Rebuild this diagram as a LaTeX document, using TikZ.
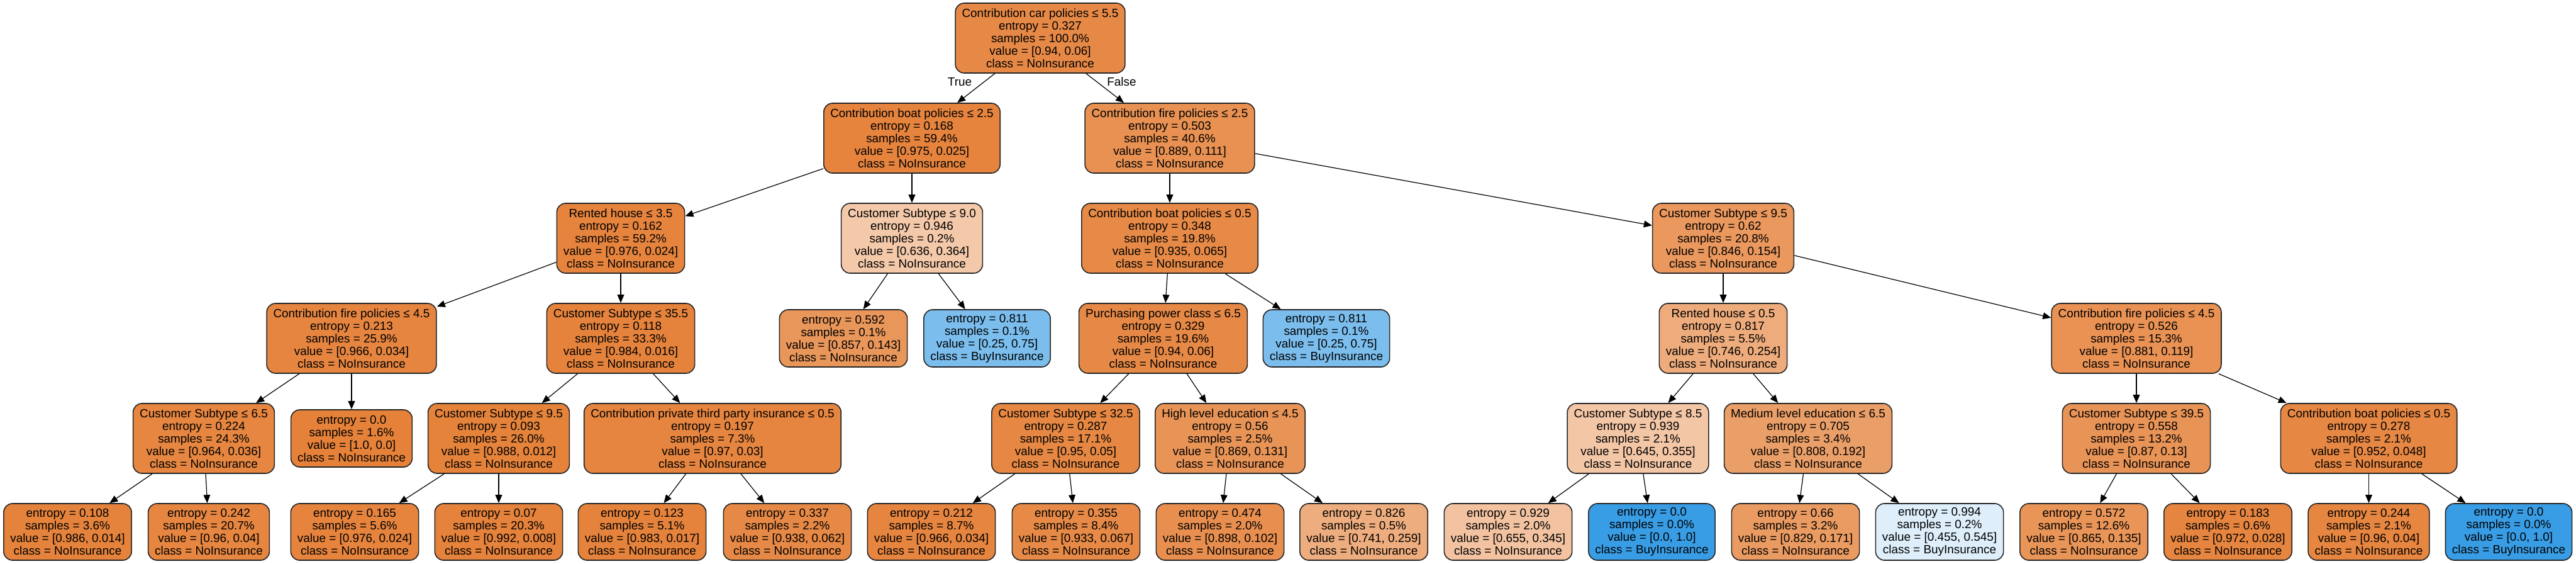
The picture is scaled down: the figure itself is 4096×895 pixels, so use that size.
\documentclass[tikz,border=0pt]{standalone}
\usepackage{fontspec}
\newfontfamily\gvfont{Liberation Sans}
\usetikzlibrary{arrows.meta}
\definecolor{cno}{RGB}{229,129,57}
\definecolor{cby}{RGB}{57,157,229}
\begin{document}
\begin{tikzpicture}[x=0.5pt,y=-0.5pt,
  box/.style={draw=black!85, line width=0.8pt, rounded corners=7pt, align=center,
    font=\gvfont\fontsize{9.45}{10}\selectfont, inner xsep=5.25pt, inner ysep=0pt},
  split/.style={box, minimum height=55.5pt},
  leaf/.style={box, minimum height=45.5pt},
  bleaf/.style={box, minimum height=45pt},
  edge/.style={line width=0.6pt, -{Triangle[length=6.5pt,width=5.4pt]}},
  elab/.style={font=\gvfont\fontsize{9.45}{10}\selectfont, inner sep=0pt}
]
\useasboundingbox (0,0) rectangle (4096,895);
\fill[white] (0,0) rectangle (4096,895);

% level 0
\node[split, fill=cno!93.6] (n0) at (1654,60.5) {Contribution car policies ≤ 5.5\\entropy = 0.327\\samples = 100.0\%\\value = [0.94, 0.06]\\class = NoInsurance};
% level 1
\node[split, fill=cno!97.4] (nL) at (1450,219.5) {Contribution boat policies ≤ 2.5\\entropy = 0.168\\samples = 59.4\%\\value = [0.975, 0.025]\\class = NoInsurance};
\node[split, fill=cno!87.5] (nR) at (1860,219.5) {Contribution fire policies ≤ 2.5\\entropy = 0.503\\samples = 40.6\%\\value = [0.889, 0.111]\\class = NoInsurance};
% level 2
\node[split, fill=cno!97.5] (nLL) at (987,378.5) {Rented house ≤ 3.5\\entropy = 0.162\\samples = 59.2\%\\value = [0.976, 0.024]\\class = NoInsurance};
\node[split, fill=cno!42.8] (nLR) at (1450,378.5) {Customer Subtype ≤ 9.0\\entropy = 0.946\\samples = 0.2\%\\value = [0.636, 0.364]\\class = NoInsurance};
\node[split, fill=cno!93.0] (nRL) at (1860,378.5) {Contribution boat policies ≤ 0.5\\entropy = 0.348\\samples = 19.8\%\\value = [0.935, 0.065]\\class = NoInsurance};
\node[split, fill=cno!81.8] (nRR) at (2740,378.5) {Customer Subtype ≤ 9.5\\entropy = 0.62\\samples = 20.8\%\\value = [0.846, 0.154]\\class = NoInsurance};
% level 3
\node[split, fill=cno!96.5] (nLLL) at (559,537.5) {Contribution fire policies ≤ 4.5\\entropy = 0.213\\samples = 25.9\%\\value = [0.966, 0.034]\\class = NoInsurance};
\node[split, fill=cno!98.4] (nLLR) at (987,537.5) {Customer Subtype ≤ 35.5\\entropy = 0.118\\samples = 33.3\%\\value = [0.984, 0.016]\\class = NoInsurance};
\node[leaf, fill=cno!83.3] (nLRL) at (1341,537.5) {entropy = 0.592\\samples = 0.1\%\\value = [0.857, 0.143]\\class = NoInsurance};
\node[leaf, fill=cby!66.7] (nLRR) at (1569.5,537.5) {entropy = 0.811\\samples = 0.1\%\\value = [0.25, 0.75]\\class = BuyInsurance};
\node[split, fill=cno!93.6] (nRLL) at (1849.5,537.5) {Purchasing power class ≤ 6.5\\entropy = 0.329\\samples = 19.6\%\\value = [0.94, 0.06]\\class = NoInsurance};
\node[leaf, fill=cby!66.7] (nRLR) at (2109,537.5) {entropy = 0.811\\samples = 0.1\%\\value = [0.25, 0.75]\\class = BuyInsurance};
\node[split, fill=cno!66.0] (nRRL) at (2740,537.5) {Rented house ≤ 0.5\\entropy = 0.817\\samples = 5.5\%\\value = [0.746, 0.254]\\class = NoInsurance};
\node[split, fill=cno!86.5] (nRRR) at (3397,537.5) {Contribution fire policies ≤ 4.5\\entropy = 0.526\\samples = 15.3\%\\value = [0.881, 0.119]\\class = NoInsurance};
% level 4
\node[split, fill=cno!96.3] (nLLLL) at (324,696.5) {Customer Subtype ≤ 6.5\\entropy = 0.224\\samples = 24.3\%\\value = [0.964, 0.036]\\class = NoInsurance};
\node[leaf, fill=cno] (nLLLR) at (559,696.5) {entropy = 0.0\\samples = 1.6\%\\value = [1.0, 0.0]\\class = NoInsurance};
\node[split, fill=cno!98.8] (nLLRL) at (793,696.5) {Customer Subtype ≤ 9.5\\entropy = 0.093\\samples = 26.0\%\\value = [0.988, 0.012]\\class = NoInsurance};
\node[split, fill=cno!96.9] (nLLRR) at (1133,696.5) {Contribution private third party insurance ≤ 0.5\\entropy = 0.197\\samples = 7.3\%\\value = [0.97, 0.03]\\class = NoInsurance};
\node[split, fill=cno!94.7] (nRLLL) at (1694.5,696.5) {Customer Subtype ≤ 32.5\\entropy = 0.287\\samples = 17.1\%\\value = [0.95, 0.05]\\class = NoInsurance};
\node[split, fill=cno!84.9] (nRLLR) at (1956,696.5) {High level education ≤ 4.5\\entropy = 0.56\\samples = 2.5\%\\value = [0.869, 0.131]\\class = NoInsurance};
\node[split, fill=cno!45.0] (nRRLL) at (2604.5,696.5) {Customer Subtype ≤ 8.5\\entropy = 0.939\\samples = 2.1\%\\value = [0.645, 0.355]\\class = NoInsurance};
\node[split, fill=cno!76.2] (nRRLR) at (2875,696.5) {Medium level education ≤ 6.5\\entropy = 0.705\\samples = 3.4\%\\value = [0.808, 0.192]\\class = NoInsurance};
\node[split, fill=cno!85.1] (nRRRL) at (3397,696.5) {Customer Subtype ≤ 39.5\\entropy = 0.558\\samples = 13.2\%\\value = [0.87, 0.13]\\class = NoInsurance};
\node[split, fill=cno!95.0] (nRRRR) at (3766.5,696.5) {Contribution boat policies ≤ 0.5\\entropy = 0.278\\samples = 2.1\%\\value = [0.952, 0.048]\\class = NoInsurance};
% level 5
\node[bleaf, fill=cno!98.6] (f1) at (107.5,845) {entropy = 0.108\\samples = 3.6\%\\value = [0.986, 0.014]\\class = NoInsurance};
\node[bleaf, fill=cno!95.8] (f2) at (332,845) {entropy = 0.242\\samples = 20.7\%\\value = [0.96, 0.04]\\class = NoInsurance};
\node[bleaf, fill=cno!97.5] (f3) at (564,845) {entropy = 0.165\\samples = 5.6\%\\value = [0.976, 0.024]\\class = NoInsurance};
\node[bleaf, fill=cno!99.2] (f4) at (793,845) {entropy = 0.07\\samples = 20.3\%\\value = [0.992, 0.008]\\class = NoInsurance};
\node[bleaf, fill=cno!98.3] (f5) at (1021,845) {entropy = 0.123\\samples = 5.1\%\\value = [0.983, 0.017]\\class = NoInsurance};
\node[bleaf, fill=cno!93.4] (f6) at (1252,845) {entropy = 0.337\\samples = 2.2\%\\value = [0.938, 0.062]\\class = NoInsurance};
\node[bleaf, fill=cno!96.5] (f7) at (1481,845) {entropy = 0.212\\samples = 8.7\%\\value = [0.966, 0.034]\\class = NoInsurance};
\node[bleaf, fill=cno!92.8] (f8) at (1711,845) {entropy = 0.355\\samples = 8.4\%\\value = [0.933, 0.067]\\class = NoInsurance};
\node[bleaf, fill=cno!88.6] (f9) at (1940,845) {entropy = 0.474\\samples = 2.0\%\\value = [0.898, 0.102]\\class = NoInsurance};
\node[bleaf, fill=cno!65.0] (f10) at (2168.5,845) {entropy = 0.826\\samples = 0.5\%\\value = [0.741, 0.259]\\class = NoInsurance};
\node[bleaf, fill=cno!47.3] (f11) at (2398,845) {entropy = 0.929\\samples = 2.0\%\\value = [0.655, 0.345]\\class = NoInsurance};
\node[bleaf, fill=cby] (f12) at (2626.5,845) {entropy = 0.0\\samples = 0.0\%\\value = [0.0, 1.0]\\class = BuyInsurance};
\node[bleaf, fill=cno!79.4] (f13) at (2855,845) {entropy = 0.66\\samples = 3.2\%\\value = [0.829, 0.171]\\class = NoInsurance};
\node[bleaf, fill=cby!16.5] (f14) at (3084,845) {entropy = 0.994\\samples = 0.2\%\\value = [0.455, 0.545]\\class = BuyInsurance};
\node[bleaf, fill=cno!84.4] (f15) at (3313.5,845) {entropy = 0.572\\samples = 12.6\%\\value = [0.865, 0.135]\\class = NoInsurance};
\node[bleaf, fill=cno!97.1] (f16) at (3542.5,845) {entropy = 0.183\\samples = 0.6\%\\value = [0.972, 0.028]\\class = NoInsurance};
\node[bleaf, fill=cno!95.8] (f17) at (3766.5,845) {entropy = 0.244\\samples = 2.1\%\\value = [0.96, 0.04]\\class = NoInsurance};
\node[bleaf, fill=cby] (f18) at (3989,845) {entropy = 0.0\\samples = 0.0\%\\value = [0.0, 1.0]\\class = BuyInsurance};

% edges
\draw[edge] (n0) -- (nL);
\draw[edge] (n0) -- (nR);
\draw[edge] (nL) -- (nLL);
\draw[edge] (nL) -- (nLR);
\draw[edge] (nR) -- (nRL);
\draw[edge] (nR) -- (nRR);
\draw[edge] (nLL) -- (nLLL);
\draw[edge] (nLL) -- (nLLR);
\draw[edge] (nLR) -- (nLRL);
\draw[edge] (nLR) -- (nLRR);
\draw[edge] (nRL) -- (nRLL);
\draw[edge] (nRL) -- (nRLR);
\draw[edge] (nRR) -- (nRRL);
\draw[edge] (nRR) -- (nRRR);
\draw[edge] (nLLL) -- (nLLLL);
\draw[edge] (nLLL) -- (nLLLR);
\draw[edge] (nLLR) -- (nLLRL);
\draw[edge] (nLLR) -- (nLLRR);
\draw[edge] (nRLL) -- (nRLLL);
\draw[edge] (nRLL) -- (nRLLR);
\draw[edge] (nRRL) -- (nRRLL);
\draw[edge] (nRRL) -- (nRRLR);
\draw[edge] (nRRR) -- (nRRRL);
\draw[edge] (nRRR) -- (nRRRR);
\draw[edge] (nLLLL) -- (f1);
\draw[edge] (nLLLL) -- (f2);
\draw[edge] (nLLRL) -- (f3);
\draw[edge] (nLLRL) -- (f4);
\draw[edge] (nLLRR) -- (f5);
\draw[edge] (nLLRR) -- (f6);
\draw[edge] (nRLLL) -- (f7);
\draw[edge] (nRLLL) -- (f8);
\draw[edge] (nRLLR) -- (f9);
\draw[edge] (nRLLR) -- (f10);
\draw[edge] (nRRLL) -- (f11);
\draw[edge] (nRRLL) -- (f12);
\draw[edge] (nRRLR) -- (f13);
\draw[edge] (nRRLR) -- (f14);
\draw[edge] (nRRRL) -- (f15);
\draw[edge] (nRRRL) -- (f16);
\draw[edge] (nRRRR) -- (f17);
\draw[edge] (nRRRR) -- (f18);

% edge labels
\node[elab] (lt) at (1526,130) {True};
\node[elab] (lf) at (1783.5,130) {False};
\end{tikzpicture}
\end{document}
